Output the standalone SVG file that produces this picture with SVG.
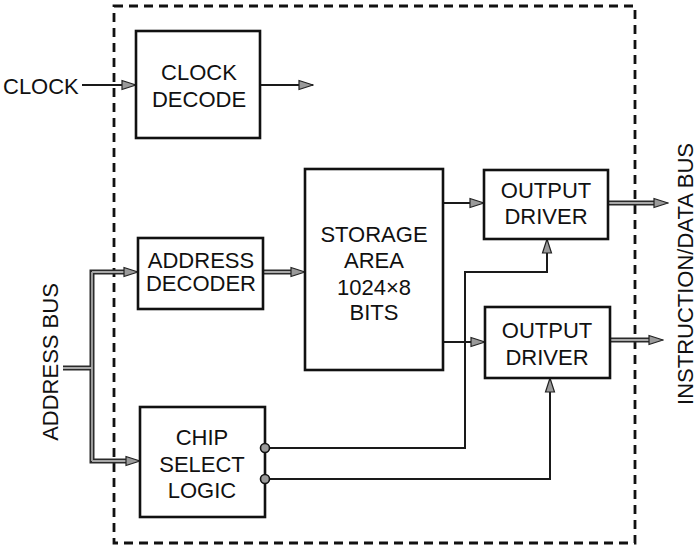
<svg xmlns="http://www.w3.org/2000/svg" width="697" height="548" viewBox="0 0 697 548">
<style>
  .box { fill: #fff; stroke: #111; stroke-width: 2.6; }
  .lbl { font-family: "Liberation Sans", Arial, sans-serif; font-size: 22px; fill: #111; text-anchor: middle; }
  .thin { fill: none; stroke: #1a1a1a; stroke-width: 2; }
  .busout { fill: none; stroke: #2a2a2a; stroke-width: 5; }
  .busin { fill: none; stroke: #a8a8a8; stroke-width: 1.8; }
  .border { fill: none; stroke: #111; stroke-width: 2.8; stroke-dasharray: 9 6; }
  .bubble { fill: #999; stroke: #111; stroke-width: 1.6; }
</style>
<defs>
  <marker id="ah" markerUnits="userSpaceOnUse" viewBox="0 0 16 12" markerWidth="16" markerHeight="12" refX="15" refY="6" orient="auto">
    <path d="M1,1.5 L15,6 L1,10.5 Z" fill="#9a9a9a" stroke="#222" stroke-width="1.2"/>
  </marker>
</defs>
<rect class="border" x="114" y="6" width="521" height="537"/>

<g id="connectors">
  <!-- clock -->
  <path class="thin" d="M82,85 H136" marker-end="url(#ah)"/>
  <path class="thin" d="M260,85 H313" marker-end="url(#ah)"/>
  <!-- address bus -->
  <path class="busout" d="M63,368 H92 M126,272 H92 V461 H128 M263,272 H293 M608,203 H656 M610,340 H651"/>
  <path class="busin" d="M63,368 H92 M92,272 V461"/>
  <path class="busin" d="M92,272 H138" marker-end="url(#ah)"/>
  <path class="busin" d="M92,461 H140" marker-end="url(#ah)"/>
  <path class="busin" d="M263,272 H305" marker-end="url(#ah)"/>
  <path class="busin" d="M608,203 H668" marker-end="url(#ah)"/>
  <path class="busin" d="M610,340 H663" marker-end="url(#ah)"/>
  <!-- storage to output drivers -->
  <path class="thin" d="M443,203 H484" marker-end="url(#ah)"/>
  <path class="thin" d="M443,342 H485" marker-end="url(#ah)"/>
  <!-- chip select -->
  <path class="thin" d="M269,448 H465 V272 H547 V239" marker-end="url(#ah)"/>
  <path class="thin" d="M269,479 H550 V378" marker-end="url(#ah)"/>
</g>

<g id="clock-decode">
  <rect class="box" x="136" y="31" width="124" height="107"/>
  <text class="lbl" x="199" y="80">CLOCK</text>
  <text class="lbl" x="199" y="107">DECODE</text>
</g>
<g id="address-decoder">
  <rect class="box" x="138" y="238" width="125" height="71"/>
  <text class="lbl" x="201" y="268">ADDRESS</text>
  <text class="lbl" x="201" y="291">DECODER</text>
</g>
<g id="storage-area">
  <rect class="box" x="305" y="169" width="138" height="201"/>
  <text class="lbl" x="374" y="242">STORAGE</text>
  <text class="lbl" x="374" y="268">AREA</text>
  <text class="lbl" x="374" y="295">1024×8</text>
  <text class="lbl" x="374" y="320">BITS</text>
</g>
<g id="output-driver-1">
  <rect class="box" x="484" y="170" width="124" height="69"/>
  <text class="lbl" x="546" y="198">OUTPUT</text>
  <text class="lbl" x="546" y="224">DRIVER</text>
</g>
<g id="output-driver-2">
  <rect class="box" x="485" y="307" width="125" height="71"/>
  <text class="lbl" x="547" y="338">OUTPUT</text>
  <text class="lbl" x="547" y="365">DRIVER</text>
</g>
<g id="chip-select-logic">
  <rect class="box" x="140" y="407" width="125" height="110"/>
  <text class="lbl" x="202" y="445">CHIP</text>
  <text class="lbl" x="202" y="472">SELECT</text>
  <text class="lbl" x="202" y="498">LOGIC</text>
  <circle class="bubble" cx="265" cy="448" r="4.5"/>
  <circle class="bubble" cx="265" cy="479" r="4.5"/>
</g>

<g id="labels">
  <text class="lbl" x="3" y="94" style="text-anchor:start">CLOCK</text>
  <text class="lbl" transform="translate(58,362) rotate(-90)">ADDRESS BUS</text>
  <text class="lbl" transform="translate(693,274) rotate(-90)">INSTRUCTION/DATA BUS</text>
</g>
</svg>
